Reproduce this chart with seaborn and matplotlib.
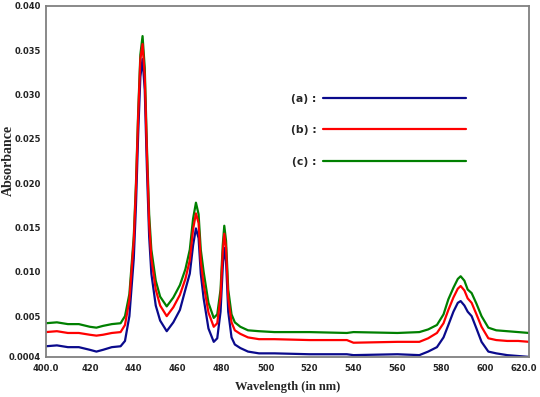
#IMPORTING NECESSARY LIBRARIES
import matplotlib
matplotlib.use('Agg')
import matplotlib.pyplot as plt
import matplotlib.transforms as mtransforms
import numpy as np
import pandas as pd
import seaborn as sns
from matplotlib.lines import Line2D

#DATA (WAVELENGTH IN NM, ABSORBANCE)
wavelength = [400, 405, 410, 415, 420, 423, 426, 430, 434,
              436, 438, 440, 441, 442, 443, 444, 445, 446, 447, 448,
              450, 452, 455, 458, 461, 463.5, 465.5, 467, 468.3, 469.5, 470.5, 471.8,
              474, 476.4, 478, 479.5, 480.5, 481.2, 482, 483, 484.5, 486, 488.5,
              492, 497, 504, 520, 537, 540, 560, 570,
              574, 578, 581, 583.2, 585.5, 587.5, 588.8, 590.5, 592, 593.8, 596, 598.3, 601.4,
              605, 610, 615, 620]

abs_a = [0.0016, 0.0017, 0.0015, 0.0015, 0.0012, 0.0010, 0.0012, 0.0015, 0.0016,
         0.0022, 0.0050, 0.0115, 0.0175, 0.0255, 0.0320, 0.0340, 0.0305, 0.0215, 0.0140, 0.0098,
         0.0062, 0.0045, 0.0033, 0.0043, 0.0057, 0.0080, 0.0098, 0.0130, 0.0149, 0.0138, 0.0098, 0.0070,
         0.0036, 0.0021, 0.0025, 0.0055, 0.0105, 0.0127, 0.0112, 0.0055, 0.0026, 0.0018, 0.0014,
         0.0010, 0.0008, 0.0008, 0.0007, 0.0007, 0.0006, 0.0007, 0.0006,
         0.0010, 0.0015, 0.0026, 0.0040, 0.0055, 0.0065, 0.0067, 0.0062, 0.0055, 0.0050, 0.0036, 0.0021, 0.0010,
         0.0008, 0.0006, 0.0005, 0.0004]

abs_b = [0.0032, 0.0033, 0.0031, 0.0031, 0.0029, 0.0028, 0.0029, 0.0031, 0.0032,
         0.0040, 0.0068, 0.0135, 0.0195, 0.0275, 0.0340, 0.0357, 0.0320, 0.0232, 0.0155, 0.0115,
         0.0080, 0.0062, 0.0050, 0.0060, 0.0074, 0.0092, 0.0113, 0.0148, 0.0166, 0.0155, 0.0112, 0.0086,
         0.0054, 0.0038, 0.0042, 0.0072, 0.0122, 0.0143, 0.0127, 0.0070, 0.0043, 0.0034, 0.0030,
         0.0026, 0.0024, 0.0024, 0.0023, 0.0023, 0.0020, 0.0021, 0.0021,
         0.0025, 0.0031, 0.0042, 0.0057, 0.0071, 0.0081, 0.0084, 0.0079, 0.0070, 0.0065, 0.0052, 0.0038, 0.0025,
         0.0023, 0.0022, 0.0022, 0.0021]

abs_c = [0.0042, 0.0043, 0.0041, 0.0041, 0.0038, 0.0037, 0.0039, 0.0041, 0.0042,
         0.0050, 0.0075, 0.0140, 0.0200, 0.0280, 0.0345, 0.0366, 0.0330, 0.0240, 0.0165, 0.0125,
         0.0090, 0.0072, 0.0061, 0.0071, 0.0085, 0.0103, 0.0125, 0.0160, 0.0178, 0.0165, 0.0125, 0.0100,
         0.0065, 0.0048, 0.0052, 0.0080, 0.0130, 0.0152, 0.0135, 0.0080, 0.0052, 0.0043, 0.0038,
         0.0034, 0.0033, 0.0032, 0.0032, 0.0031, 0.0032, 0.0031, 0.0032,
         0.0035, 0.0040, 0.0052, 0.0069, 0.0082, 0.0092, 0.0095, 0.0090, 0.0080, 0.0076, 0.0064, 0.0050, 0.0037,
         0.0034, 0.0033, 0.0032, 0.0031]

labels = ['(a) :', '(b) :', '(c) :']
colors = ['#0a0a8c', '#ff0000', '#008000']

x_ticks = [400, 420, 440, 460, 480, 500, 520, 540, 560, 580, 600, 620]
x_tick_labels = ['400.0', '420', '440', '460', '480', '500', '520', '540', '560', '580', '600', '620.0']
y_ticks = [0.0004, 0.005, 0.010, 0.015, 0.020, 0.025, 0.030, 0.035, 0.040]
y_tick_labels = ['0.0004', '0.005', '0.010', '0.015', '0.020', '0.025', '0.030', '0.035', '0.040']

assert len(wavelength) == len(abs_a) == len(abs_b) == len(abs_c)

df = pd.DataFrame({'wavelength': wavelength, 'a': abs_a, 'b': abs_b, 'c': abs_c})

#SETTING THE GRAPH
sns.set_style('white')
fig = plt.figure(figsize=(5.4, 3.97), dpi=100)
ax = fig.add_axes([0.085, 0.101, 0.895, 0.884])

#DRAW ORDER: GREEN, BLUE, RED ON TOP
sns.lineplot(data=df, x='wavelength', y='c', color=colors[2], linewidth=1.6, ax=ax)
sns.lineplot(data=df, x='wavelength', y='a', color=colors[0], linewidth=1.6, ax=ax)
sns.lineplot(data=df, x='wavelength', y='b', color=colors[1], linewidth=1.6, ax=ax)

ax.set_xlim(400, 620)
ax.set_ylim(0.0004, 0.040)
ax.set_xticks(x_ticks)
ax.set_xticklabels(x_tick_labels)
ax.set_yticks(y_ticks)
ax.set_yticklabels(y_tick_labels)
ax.tick_params(axis='both', direction='out', length=2, width=0.8, color='#555555',
               labelsize=6, pad=1.5, labelcolor='#222222')
ax.tick_params(axis='x', pad=3)
for lab in ax.get_xticklabels() + ax.get_yticklabels():
    lab.set_fontweight('bold')

#NUDGE THE LAST X LABEL SO IT STAYS INSIDE THE PICTURE
last = ax.get_xticklabels()[-1]
last.set_transform(last.get_transform() + mtransforms.ScaledTranslation(-4 / 72, 0, fig.dpi_scale_trans))

for side in ['left', 'right', 'top', 'bottom']:
    ax.spines[side].set_color('#808080')
    ax.spines[side].set_linewidth(1.3)

ax.set_xlabel('Wavelength (in nm)', family='Liberation Serif', fontweight='bold', fontsize=9, labelpad=6)
ax.set_ylabel('Absorbance', family='Liberation Serif', fontweight='bold', fontsize=10)
ax.yaxis.set_label_coords(-0.064, 0.56)

#LEGEND WITH LABELS IN FRONT OF LONG LINES
handles = [Line2D([0], [0], color=c, linewidth=1.6) for c in colors]
ax.legend(handles, labels, loc='upper left', bbox_to_anchor=(0.487, 0.778), markerfirst=False,
          frameon=False, handlelength=13.2, labelspacing=2.0, handletextpad=0.6,
          prop={'weight': 'bold', 'size': 7.8})

fig.savefig('out.png', dpi=100)
